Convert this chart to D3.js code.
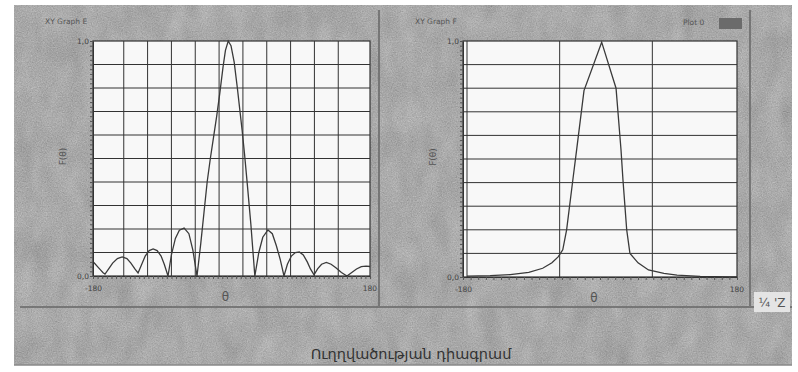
<!DOCTYPE html>
<html>
<head>
<meta charset="utf-8">
<script src="https://cdn.jsdelivr.net/npm/d3@7"></script>
<style>
  html, body { margin: 0; padding: 0; background: #fff; }
  svg { display: block; font-family: "DejaVu Sans", sans-serif; }
</style>
</head>
<body>
<svg id="chart" width="798" height="372"></svg>
<script>
// ---- data ----
// Graph E: array factor with side lobes
const thetaE = [-180, -176, -172, -168, -164, -161, -158.6, -154, -149, -143, -137, -131, -126, -121, -117,
  -113, -108, -103, -98, -93, -88, -84, -79.3, -75, -70, -65, -59, -53, -48, -42.8,
  -38, -34, -30, -26, -22, -18, -14, -10, -7, -3.5, 0, 4, 8, 11, 14, 17, 20, 25, 30,
  35, 40, 46.5, 52, 57, 62, 66.7, 71, 76, 81, 86, 91, 96, 100, 104.5,
  109, 114, 120, 126, 132, 139, 146, 152, 158, 164, 170, 176, 180];
const valuesE = [0.07, 0.065, 0.055, 0.04, 0.025, 0.014, 0.008, 0.03, 0.055, 0.074, 0.081, 0.074, 0.055, 0.03, 0.013,
  0.045, 0.085, 0.108, 0.115, 0.108, 0.085, 0.05, 0, 0.09, 0.16, 0.195, 0.204, 0.18, 0.11, 0,
  0.14, 0.27, 0.4, 0.5, 0.59, 0.68, 0.78, 0.89, 0.96, 1.0, 0.98, 0.91, 0.8, 0.71, 0.62, 0.52, 0.41, 0.22, 0,
  0.1, 0.165, 0.196, 0.18, 0.13, 0.07, 0, 0.05, 0.085, 0.1, 0.102, 0.09, 0.06, 0.03, 0.005,
  0.03, 0.05, 0.058, 0.05, 0.035, 0.015, 0, 0.015, 0.03, 0.04, 0.042, 0.04, 0.04];

// Graph F: coarse single-lobe pattern
const thetaF = [-180, -150, -124, -100, -82, -70, -62, -56, -51, -43, -38, -28.5, -5.6,
  13, 19.4, 22, 26.8, 31, 41.5, 55, 75, 92, 122, 158, 180];
const valuesF = [0.004, 0.006, 0.01, 0.02, 0.037, 0.06, 0.085, 0.115, 0.2, 0.41, 0.54, 0.79, 0.995,
  0.8, 0.54, 0.41, 0.2, 0.1, 0.06, 0.03, 0.015, 0.008, 0.003, 0, 0];

const xEndLabels = ["-180", "180"];
const yEndLabels = ["0,0", "1,0"];
const gridXE = d3.range(-135, 136, 30);
const gridXF = [-180, -60, 60];
const gridY = d3.range(1, 10).map(d => d / 10);

const svg = d3.select("#chart");
const defs = svg.append("defs");

// scan texture
function grain(id, freq, slope, seed) {
  const f = defs.append("filter").attr("id", id).attr("x", 0).attr("y", 0).attr("width", 1).attr("height", 1)
    .attr("color-interpolation-filters", "sRGB");
  f.append("feTurbulence").attr("type", "fractalNoise").attr("baseFrequency", freq).attr("numOctaves", 2).attr("seed", seed);
  f.append("feColorMatrix").attr("type", "matrix")
    .attr("values", `0.36 0.36 0.36 0 0  0.36 0.36 0.36 0 0  0.36 0.36 0.36 0 0  0 0 0 0 ${slope}`);
}
grain("noise", "0.8", 0.3, 4);
grain("blot", "0.06 0.03", 0.25, 9);

const bg = { x: 14, y: 5, width: 778, height: 360 };
svg.append("rect").attr("x", bg.x).attr("y", bg.y).attr("width", bg.width).attr("height", bg.height).attr("fill", "#c4c4c4");
svg.append("rect").attr("x", bg.x).attr("y", bg.y).attr("width", bg.width).attr("height", bg.height).attr("filter", "url(#blot)");
svg.append("rect").attr("x", bg.x).attr("y", bg.y).attr("width", bg.width).attr("height", bg.height).attr("filter", "url(#noise)");

// window borders
const border = svg.append("g").attr("stroke", "#666").attr("stroke-width", 1.5);
border.append("line").attr("x1", 379).attr("x2", 379).attr("y1", 10).attr("y2", 306);
border.append("line").attr("x1", 750).attr("x2", 750).attr("y1", 10).attr("y2", 306);
border.append("line").attr("x1", 20).attr("x2", 792).attr("y1", 307).attr("y2", 307);
border.append("line").attr("x1", 14).attr("x2", 792).attr("y1", 365).attr("y2", 365).attr("stroke", "#888");

function panel(cfg) {
  const x = d3.scaleLinear().domain([-180, 180]).range(cfg.xRange);
  const y = d3.scaleLinear().domain([0, 1]).range([cfg.bottom, cfg.top]);
  const w = cfg.right - cfg.left, h = cfg.bottom - cfg.top;

  svg.append("text").attr("x", cfg.titleX).attr("y", 24).attr("font-size", 7.5).attr("fill", "#555").text(cfg.title);

  svg.append("rect").attr("x", cfg.left).attr("y", cfg.top).attr("width", w).attr("height", h).attr("fill", "#f8f8f8");
  const clipId = "clip" + cfg.id;
  defs.append("clipPath").attr("id", clipId).append("rect")
    .attr("x", cfg.left).attr("y", cfg.top - 2).attr("width", w).attr("height", h + 2);

  const g = svg.append("g").attr("clip-path", `url(#${clipId})`);
  g.selectAll("line.gx").data(cfg.gridX).join("line").attr("class", "gx")
    .attr("x1", d => x(d)).attr("x2", d => x(d)).attr("y1", cfg.top).attr("y2", cfg.bottom)
    .attr("stroke", "#333").attr("stroke-width", 1);
  g.selectAll("line.gy").data(gridY).join("line").attr("class", "gy")
    .attr("x1", cfg.left).attr("x2", cfg.right).attr("y1", d => y(d)).attr("y2", d => y(d))
    .attr("stroke", "#333").attr("stroke-width", 1);

  const pts = cfg.theta.map((t, i) => [t, cfg.values[i]]);
  g.append("path").datum(pts)
    .attr("fill", "none").attr("stroke", "#3a3a3a").attr("stroke-width", 1.3)
    .attr("d", d3.line().x(d => x(d[0])).y(d => y(d[1])));

  // frame
  svg.append("rect").attr("x", cfg.left).attr("y", cfg.top).attr("width", w).attr("height", h)
    .attr("fill", "none").attr("stroke", "#333").attr("stroke-width", 1.2);

  // minor ticks along left and bottom
  const yAx = d3.scaleLinear().domain([0, 1]).range([cfg.bottom, cfg.top]);
  svg.append("g").attr("transform", `translate(${cfg.left},0)`)
    .call(d3.axisLeft(yAx).tickValues(d3.range(0, 1.001, 0.02)).tickSize(3).tickFormat("").tickSizeOuter(0))
    .call(s => s.select(".domain").attr("stroke", "#333"))
    .call(s => s.selectAll(".tick line").attr("stroke", "#555"));
  const xAx = d3.scaleLinear().domain([-180, 180]).range([cfg.left, cfg.right]);
  svg.append("g").attr("transform", `translate(0,${cfg.bottom})`)
    .call(d3.axisBottom(xAx).tickValues(d3.range(-180, 181, cfg.minorStep)).tickSize(3).tickFormat("").tickSizeOuter(0))
    .call(s => s.select(".domain").attr("stroke", "#333"))
    .call(s => s.selectAll(".tick line").attr("stroke", "#555"));

  // end labels
  const lab = svg.append("g").attr("font-size", 7.5).attr("fill", "#444");
  lab.append("text").attr("x", cfg.left - 4).attr("y", cfg.bottom + 3).attr("text-anchor", "end").text(yEndLabels[0]);
  lab.append("text").attr("x", cfg.left - 4).attr("y", cfg.top + 3).attr("text-anchor", "end").text(yEndLabels[1]);
  lab.append("text").attr("x", cfg.left - 8).attr("y", cfg.bottom + 15).text(xEndLabels[0]);
  lab.append("text").attr("x", cfg.right).attr("y", cfg.bottom + 15).attr("text-anchor", "middle").text(xEndLabels[1]);

  svg.append("text").attr("x", (cfg.left + cfg.right) / 2 - 6).attr("y", cfg.bottom + 25)
    .attr("text-anchor", "middle").attr("font-size", 12).attr("fill", "#555").text("θ");
  svg.append("text").attr("transform", `translate(${cfg.left - 27},${(cfg.top + cfg.bottom) / 2 - 2}) rotate(-90)`)
    .attr("text-anchor", "middle").attr("font-size", 9).attr("fill", "#555").text("F(θ)");
}

panel({ id: "E", title: "XY Graph E", titleX: 45, left: 93, right: 370, top: 41, bottom: 276,
  xRange: [88, 374], gridX: gridXE, theta: thetaE, values: valuesE, minorStep: 6 });
panel({ id: "F", title: "XY Graph F", titleX: 415, left: 463, right: 737, top: 41, bottom: 277,
  xRange: [467, 745], gridX: gridXF, theta: thetaF, values: valuesF, minorStep: 10 });

// legend of graph F
svg.append("text").attr("x", 683).attr("y", 25).attr("font-size", 7.5).attr("fill", "#555").text("Plot 0");
svg.append("rect").attr("x", 719).attr("y", 18).attr("width", 23).attr("height", 11).attr("fill", "#6b6b6b");

// cut-off box at right edge
svg.append("rect").attr("x", 754).attr("y", 292).attr("width", 36).attr("height", 20).attr("fill", "#e4e4e4");
svg.append("text").attr("x", 772).attr("y", 307).attr("text-anchor", "middle").attr("font-size", 12).attr("fill", "#555").text("¼ 'Z");

// caption
svg.append("text").attr("x", 411).attr("y", 359).attr("text-anchor", "middle").attr("font-size", 14.5)
  .attr("fill", "#333").text("Ուղղվածության դիագրամ");
</script>
</body>
</html>
